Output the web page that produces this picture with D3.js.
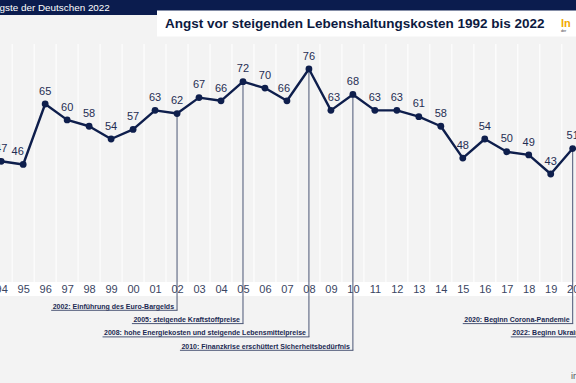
<!DOCTYPE html>
<html><head><meta charset="utf-8">
<script src="https://cdn.jsdelivr.net/npm/d3@7"></script>
<style>
body{margin:0;background:#f3f3f3;}
svg{display:block;font-family:"Liberation Sans",Arial,Helvetica,sans-serif;}
</style>
</head><body>
<svg id="c" width="576" height="383"></svg>
<script>
// ---- data ----
const years = [1994,1995,1996,1997,1998,1999,2000,2001,2002,2003,2004,2005,2006,2007,2008,2009,2010,2011,2012,2013,2014,2015,2016,2017,2018,2019,2020];
const values = [47,46,65,60,58,54,57,63,62,67,66,72,70,66,76,63,68,63,63,61,58,48,54,50,49,43,51];
const tickLabels = ["94","95","96","97","98","99","00","01","02","03","04","05","06","07","08","09","10","11","12","13","14","15","16","17","18","19","20"];
const eventYears = [2002,2005,2008,2010,2020,2022];
const eventTexts = [
  "2002: Einführung des Euro-Bargelds",
  "2005: steigende Kraftstoffpreise",
  "2008: hohe Energiekosten und steigende Lebensmittelpreise",
  "2010: Finanzkrise erschüttert Sicherheitsbedürfnis",
  "2020: Beginn Corona-Pandemie",
  "2022: Beginn Ukraine-Krieg"
];
const headerText = "gste der Deutschen 2022";
const titleText = "Angst vor steigenden Lebenshaltungskosten 1992 bis 2022";

// ---- layout ----
const eventRows = [0,1,2,3,1,2];
const eventShift = {2022: -10};
const labelNudge = {1995:-5.5, 2007:-3, 2009:3};
const W = 576, H = 383;
const navy = "#0e1e4c";

const svg = d3.select("#c");
const x = d3.scaleLinear().domain([1994, 2020]).range([1.2, 572.7]);
const y = d3.scaleLinear().domain([72, 54]).range([81.7, 139]);

svg.append("rect").attr("width", W).attr("height", H).attr("fill", "#f3f3f3");

// stripes
svg.append("g").selectAll("line").data(d3.range(1993, 2021))
  .join("line")
  .attr("x1", d => x(d + 0.5)).attr("x2", d => x(d + 0.5))
  .attr("y1", 44).attr("y2", 282)
  .attr("stroke", "#fcfcfc").attr("stroke-width", 1.4);

// header
svg.append("rect").attr("x", 0).attr("y", 0).attr("width", W).attr("height", 15).attr("fill", "#0b1c4e");
svg.append("text").attr("x", -0.5).attr("y", 10.8).attr("fill", "#fff")
  .attr("font-size", 9.9).text(headerText);
svg.append("rect").attr("x", 157).attr("y", 10.5).attr("width", W - 157).attr("height", 26).attr("fill", "#fff");
const title = svg.append("text").attr("x", 165).attr("y", 28.3).attr("fill", "#0d1a3f")
  .attr("font-weight", "bold").attr("font-size", 15).text(titleText);
const tw = title.node().getComputedTextLength();
title.attr("font-size", 15 * 380 / tw);
svg.append("text").attr("x", 561).attr("y", 26.5).attr("fill", "#f2a900")
  .attr("font-weight", "bold").attr("font-size", 11).text("In");
svg.append("text").attr("x", 561).attr("y", 32).attr("fill", "#333")
  .attr("font-size", 3.6).text("der");

// axis band
svg.append("rect").attr("x", 0).attr("y", 282).attr("width", W).attr("height", 14).attr("fill", "#ffffff");

// event lines and labels
const rowBase = [308.5, 321.8, 335.1, 348.5];
const valueOf = yr => { const i = years.indexOf(yr); return i >= 0 ? values[i] : null; };
const ev = svg.append("g");
eventYears.forEach((yr, i) => {
  const xb = x(yr);
  const base = rowBase[eventRows[i]];
  const uy = base + 1.8;
  const v = valueOf(yr);
  const tx = xb - 3 + (eventShift[yr] || 0);
  const t = ev.append("text").attr("x", tx).attr("y", base)
    .attr("text-anchor", "end").attr("font-size", 7).attr("font-weight", "bold")
    .attr("fill", "#1b2a52").text(eventTexts[i]);
  const w = t.node().getComputedTextLength();
  ev.append("line").attr("x1", tx - w - 1.5).attr("x2", Math.max(xb, tx + 3) + 0.5)
    .attr("y1", uy).attr("y2", uy).attr("stroke", "#4b5675").attr("stroke-width", 1);
  ev.append("line").attr("x1", xb).attr("x2", xb)
    .attr("y1", v != null ? y(v) : 40).attr("y2", uy)
    .attr("stroke", "#4b5675").attr("stroke-width", 1);
});

// axis
const axis = d3.axisBottom(x).tickValues(years)
  .tickFormat((d, i) => tickLabels[i]).tickSize(0);
const ag = svg.append("g").attr("transform", "translate(0,282)").call(axis);
ag.select(".domain").remove();
ag.selectAll("text").attr("y", 11.2).attr("dy", null)
  .attr("font-size", 11).attr("fill", "#3a4562")
  .attr("font-family", "Liberation Sans, Arial, sans-serif");

// line
const pts = years.map((yr, i) => [yr, values[i]]);
svg.append("path").datum(pts)
  .attr("d", d3.line().x(d => x(d[0])).y(d => y(d[1])))
  .attr("fill", "none").attr("stroke", navy).attr("stroke-width", 2.4)
  .attr("stroke-linejoin", "round");
svg.append("g").selectAll("circle").data(pts).join("circle")
  .attr("cx", d => x(d[0])).attr("cy", d => y(d[1])).attr("r", 3.4).attr("fill", navy);
svg.append("g").selectAll("text").data(pts).join("text")
  .attr("x", d => x(d[0]) + (labelNudge[d[0]] || 0))
  .attr("y", d => y(d[1]) - 9.3)
  .attr("text-anchor", "middle").attr("font-size", 11).attr("fill", "#1f2d52")
  .text(d => d[1]);

// source fragment
svg.append("text").attr("x", 571).attr("y", 379).attr("font-size", 9).attr("fill", "#555").text("ir");
</script>
</body></html>
